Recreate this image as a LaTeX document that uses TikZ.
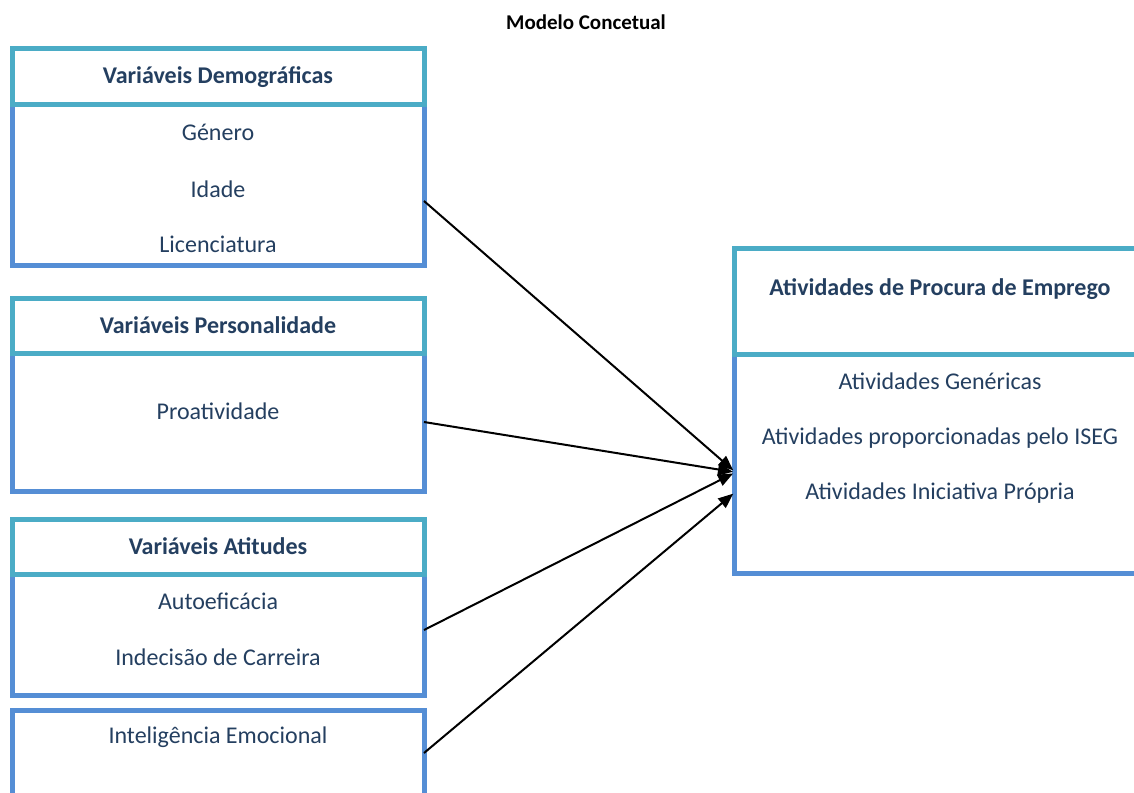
\documentclass[tikz,border=0pt]{standalone}
\usepackage{fontspec}
\setmainfont{Carlito}
\usetikzlibrary{arrows.meta}
\definecolor{teal}{HTML}{4BACC6}
\definecolor{boxblue}{HTML}{558ED5}
\definecolor{navy}{HTML}{243F60}
\tikzset{
  hdr/.style={draw=teal, line width=5pt, fill=white, anchor=north west, minimum width=412pt, inner sep=0pt, outer sep=0pt},
  bdy/.style={draw=boxblue, line width=5pt, fill=white, anchor=north west, minimum width=412pt, inner sep=0pt, outer sep=0pt},
  htext/.style={font=\fontsize{24}{28}\selectfont\bfseries, text=navy, inner sep=0pt},
  btext/.style={font=\fontsize{24}{28}\selectfont, text=navy, inner sep=0pt},
  arr/.style={line width=2pt, shorten >=1pt, -{Triangle[length=15pt,width=12pt]}}
}
\begin{document}
\begin{tikzpicture}[x=1pt,y=-1pt]
\clip (0,0) rectangle (1134,792);
\fill[white] (0,0) rectangle (1134,792);
% title
\node[font=\fontsize{21}{25}\selectfont\bfseries, inner sep=0pt] (title) at (586,22) {Modelo Concetual};
% bodies
\node[bdy, minimum height=161pt] (b1) at (12,104) {};
\node[bdy, minimum height=138pt] (b2) at (12,353) {};
\node[bdy, minimum height=121pt] (b3) at (12,574) {};
\node[bdy, minimum height=120pt] (b4) at (12,710) {};
\node[bdy, minimum height=219pt] (r) at (734,354) {};
% headers
\node[hdr, minimum height=55pt] (h1) at (12,49) {};
\node[hdr, minimum height=55pt] (h2) at (12,298) {};
\node[hdr, minimum height=55pt] (h3) at (12,519) {};
\node[hdr, minimum height=106pt] (rh) at (734,248) {};
% header texts
\node[htext] (t1) at (218,77) {Variáveis Demográficas};
\node[htext] (t2) at (218,325) {Variáveis Personalidade};
\node[htext] (t3) at (218,546) {Variáveis Atitudes};
\node[htext] (tr) at (940,289) {Atividades de Procura de Emprego};
% body texts
\node[btext] (g) at (218,132) {Género};
\node[btext] (i) at (218,189) {Idade};
\node[btext] (l) at (218,244) {Licenciatura};
\node[btext] (p) at (218,411) {Proatividade};
\node[btext] (a) at (218,601) {Autoeficácia};
\node[btext] (c) at (218,657) {Indecisão de Carreira};
\node[btext] (e) at (218,737) {Inteligência Emocional};
\node[btext] (r1) at (940,381) {Atividades Genéricas};
\node[btext] (r2) at (940,438) {Atividades proporcionadas pelo ISEG};
\node[btext] (r3) at (940,493) {Atividades Iniciativa Própria};
% arrows
\draw[arr] ([yshift=-16.5pt]b1.east) -- ([yshift=-7.5pt]r.west);
\draw[arr] (b2.east) -- ([yshift=-8.5pt]r.west);
\draw[arr] ([yshift=4.5pt]b3.east) -- ([yshift=-9.5pt]r.west);
\draw[arr] ([yshift=-43pt]b4.north east) -- ([yshift=-29.5pt]r.west);
\end{tikzpicture}
\end{document}
